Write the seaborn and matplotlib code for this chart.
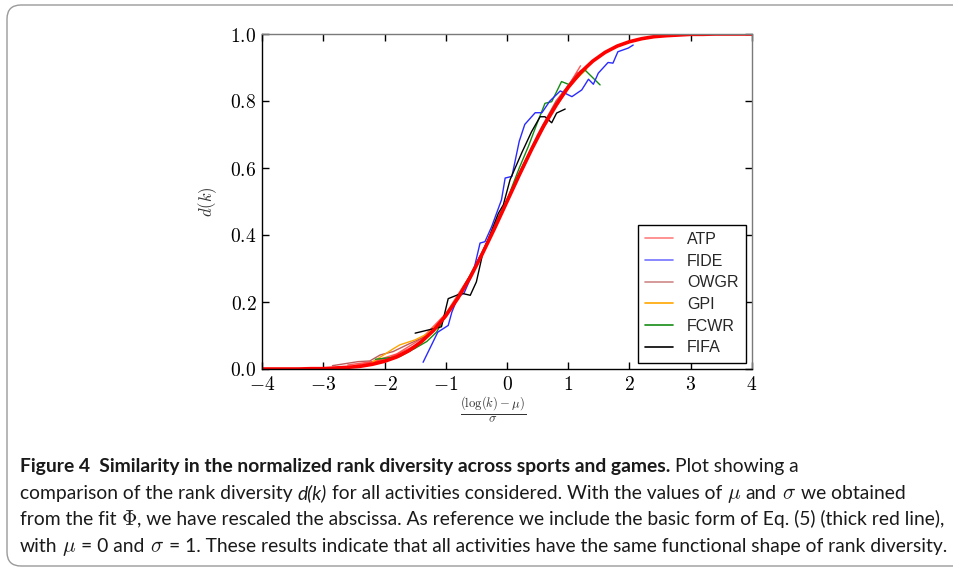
import numpy as np
import pandas as pd
import matplotlib
matplotlib.use("Agg")
import matplotlib.pyplot as plt
import seaborn as sns
from matplotlib.patches import FancyBboxPatch
from matplotlib.lines import Line2D

# ---------------- data ----------------
ref_x = [-4.0, -3.8, -3.6, -3.4, -3.2, -3.0, -2.8, -2.6, -2.4, -2.2, -2.0, -1.8, -1.6,
         -1.4, -1.2, -1.0, -0.8, -0.6, -0.4, -0.2, 0.0, 0.2, 0.4, 0.6, 0.8, 1.0, 1.2,
         1.4, 1.6, 1.8, 2.0, 2.2, 2.4, 2.6, 2.8, 3.0, 3.2, 3.4, 3.6, 3.8, 4.0]
ref_y = [0.000, 0.000, 0.000, 0.000, 0.001, 0.001, 0.003, 0.005, 0.008, 0.014, 0.023,
         0.036, 0.055, 0.081, 0.115, 0.159, 0.212, 0.274, 0.345, 0.421, 0.500, 0.579,
         0.655, 0.726, 0.788, 0.841, 0.885, 0.919, 0.945, 0.964, 0.977, 0.986, 0.992,
         0.995, 0.997, 0.999, 0.999, 1.000, 1.000, 1.000, 1.000]

atp1_x = [-2.6, -2.2, -1.8, -1.4, -1.0, -0.6, -0.2, 0.2, 0.6, 1.0, 1.2]
atp1_y = [0.012, 0.022, 0.045, 0.090, 0.165, 0.280, 0.420, 0.585, 0.730, 0.845, 0.905]
atp2_x = [-2.3, -1.9, -1.5, -1.1, -0.7, -0.3, 0.1, 0.5, 0.9, 1.15]
atp2_y = [0.015, 0.035, 0.070, 0.130, 0.245, 0.385, 0.545, 0.695, 0.820, 0.885]
atp3_x = [-2.5, -2.0, -1.5, -1.0, -0.5, 0.0, 0.5, 1.0, 1.18]
atp3_y = [0.010, 0.028, 0.062, 0.155, 0.310, 0.500, 0.690, 0.840, 0.875]

fide_x = [-1.37, -1.13, -0.96, -0.90, -0.80, -0.70, -0.55, -0.44, -0.36, -0.25, -0.20,
          -0.09, -0.03, 0.08, 0.20, 0.29, 0.46, 0.57, 0.70, 0.87, 1.06, 1.22, 1.33,
          1.41, 1.49, 1.65, 1.73, 1.81, 1.98, 2.06]
fide_y = [0.020, 0.110, 0.130, 0.170, 0.215, 0.227, 0.290, 0.376, 0.380, 0.425, 0.450,
          0.505, 0.570, 0.575, 0.680, 0.730, 0.765, 0.765, 0.800, 0.830, 0.813, 0.833,
          0.865, 0.850, 0.883, 0.915, 0.913, 0.947, 0.958, 0.967]

owgr_x = [-2.85, -2.43, -2.24, -2.07, -1.86, -1.60, -1.30, -1.00, -0.70, -0.40, -0.10,
          0.20, 0.50, 0.80, 1.10, 1.20]
owgr_y = [0.010, 0.022, 0.024, 0.042, 0.052, 0.075, 0.100, 0.160, 0.245, 0.350, 0.465,
          0.585, 0.700, 0.800, 0.870, 0.890]

gpi_x = [-2.20, -1.86, -1.75, -1.50, -1.30, -1.10, -0.90, -0.70, -0.50, -0.30, -0.10,
         0.10, 0.30, 0.50, 0.70, 0.90, 1.10, 1.30]
gpi_y = [0.020, 0.060, 0.072, 0.087, 0.105, 0.140, 0.190, 0.245, 0.310, 0.385, 0.465,
         0.540, 0.620, 0.690, 0.755, 0.815, 0.860, 0.895]

fcwr_x = [-2.15, -1.75, -1.50, -1.31, -1.15, -0.98, -0.80, -0.60, -0.40, -0.20, 0.00,
          0.20, 0.35, 0.48, 0.62, 0.73, 0.89, 1.03, 1.27, 1.52]
fcwr_y = [0.029, 0.037, 0.062, 0.082, 0.110, 0.167, 0.215, 0.280, 0.350, 0.430, 0.505,
          0.600, 0.665, 0.728, 0.793, 0.798, 0.858, 0.848, 0.893, 0.848]

fifa_x = [-1.50, -1.07, -0.96, -0.74, -0.60, -0.50, -0.39, -0.30, -0.14, -0.06, 0.05,
          0.24, 0.40, 0.54, 0.62, 0.73, 0.81, 0.95]
fifa_y = [0.107, 0.126, 0.210, 0.226, 0.220, 0.260, 0.350, 0.390, 0.465, 0.490, 0.565,
          0.645, 0.708, 0.753, 0.753, 0.735, 0.764, 0.776]

legend_labels = ["ATP", "FIDE", "OWGR", "GPI", "FCWR", "FIFA"]
x_ticks = [-4, -3, -2, -1, 0, 1, 2, 3, 4]
y_ticks = [0.0, 0.2, 0.4, 0.6, 0.8, 1.0]

# ---------------- style ----------------
sns.set_style("ticks")
plt.rcParams["mathtext.fontset"] = "cm"
plt.rcParams["font.family"] = ["Lato", "DejaVu Sans"]

colors = {"ATP": "#ff3b3b", "FIDE": "#2a2aff", "OWGR": "#b54a4a",
          "GPI": "#ffa500", "FCWR": "#148c14", "FIFA": "#000000"}

W, H = 954, 570
fig = plt.figure(figsize=(W / 100, H / 100), dpi=100)
ax = fig.add_axes([262 / W, 1 - 369 / H, 490 / W, 335 / H])

kw = dict(ax=ax, sort=False, estimator=None, linewidth=1.0)
for xs, ys in [(atp1_x, atp1_y), (atp2_x, atp2_y), (atp3_x, atp3_y)]:
    sns.lineplot(x=xs, y=ys, color=colors["ATP"], alpha=0.85, **kw)
sns.lineplot(x=ref_x, y=ref_y, color="#ff0000", ax=ax, sort=False, estimator=None,
             linewidth=2.6, zorder=2.5)
sns.lineplot(x=owgr_x, y=owgr_y, color=colors["OWGR"], alpha=0.9, **kw)
sns.lineplot(x=gpi_x, y=gpi_y, color=colors["GPI"], **kw)
sns.lineplot(x=fcwr_x, y=fcwr_y, color=colors["FCWR"], **kw)
sns.lineplot(x=fide_x, y=fide_y, color=colors["FIDE"], **kw)
sns.lineplot(x=fifa_x, y=fifa_y, color=colors["FIFA"], **kw)

ax.set_xlim(-4, 4)
ax.set_ylim(0, 1)
ax.set_xticks(x_ticks)
ax.set_xticklabels([f"${v}$" for v in x_ticks])
ax.set_yticks(y_ticks)
ax.set_yticklabels([f"${v:.1f}$" for v in y_ticks])
ax.tick_params(direction="in", top=True, right=True, length=5, width=1,
               labelsize=14, colors="black")
ax.tick_params(axis="x", pad=4)
ax.tick_params(axis="y", pad=4)
for s in ["left", "bottom"]:
    ax.spines[s].set_color("black")
    ax.spines[s].set_linewidth(1.0)
for s in ["top", "right"]:
    ax.spines[s].set_color("#7a7a7a")
    ax.spines[s].set_linewidth(1.0)

ax.set_ylabel(r"$d(k)$", fontsize=12, color="#333333")
ax.yaxis.set_label_coords(-0.088, 0.5)
ax.set_xlabel(r"$\frac{(\log(k)-\mu)}{\sigma}$", fontsize=13, color="#333333")
ax.xaxis.set_label_coords(0.472, -0.08)

handles = [Line2D([0], [0], color=colors[l], lw=1.2,
                  alpha=0.65 if l in ("ATP", "FIDE", "OWGR") else 1.0)
           for l in legend_labels]
leg = ax.legend(handles, legend_labels, loc="lower right",
                prop={"family": ["Liberation Sans", "DejaVu Sans"], "size": 11.5},
                frameon=True, fancybox=False, edgecolor="black", framealpha=1,
                handlelength=1.7, handletextpad=0.9, labelspacing=0.42,
                borderpad=0.45, borderaxespad=0.4)
leg.get_frame().set_linewidth(1.0)

# ---------------- figure border ----------------
border = FancyBboxPatch((7, 4), 1100, 561, boxstyle="round,pad=0,rounding_size=14",
                        transform=None, fill=False, edgecolor="#9a9a9a", lw=1.0)
fig.patches.append(border)

# ---------------- caption ----------------
caption_lines = [
    [("Figure 4  Similarity in the normalized rank diversity across sports and games.", "b"),
     (" Plot showing a", "r")],
    [("comparison of the rank diversity ", "r"), ("d(k)", "i"),
     (" for all activities considered. With the values of ", "r"), (r"$\mu$", "m"),
     (" and ", "r"), (r"$\sigma$", "m"), (" we obtained", "r")],
    [("from the fit ", "r"), (r"$\Phi$", "m"),
     (", we have rescaled the abscissa. As reference we include the basic form of Eq. (5) (thick red line),", "r")],
    [("with ", "r"), (r"$\mu$", "m"), (" = 0 and ", "r"), (r"$\sigma$", "m"),
     (" = 1. These results indicate that all activities have the same functional shape of rank diversity.", "r")],
]
baselines = [472, 499, 525, 552]
renderer = fig.canvas.get_renderer()


def style_kw(st, size):
    d = dict(fontsize=size, color="#1a1a1a")
    if st == "b":
        d["fontweight"] = "bold"
    elif st == "i":
        d["fontstyle"] = "italic"
    elif st == "m":
        d["fontsize"] = size * 1.1
    return d


def text_w(s, size, st="r"):
    t = fig.text(0, 0, s, **style_kw(st, size))
    w = t.get_window_extent(renderer=renderer).width
    t.remove()
    return w


def draw_line(runs, y_px, size, x0=20, draw=True):
    sp = text_w("a a", size) - text_w("aa", size)
    x = x0
    for s, st in runs:
        lead = len(s) - len(s.lstrip(" "))
        trail = len(s) - len(s.rstrip(" "))
        core = s.strip(" ")
        x += lead * sp
        t = fig.text(x / W, 1 - y_px / H, core, va="baseline", ha="left",
                     **style_kw(st, size))
        w = t.get_window_extent(renderer=renderer).width
        if not draw:
            t.remove()
        x += w + trail * sp
    return x


base = 12.0
end4 = draw_line(caption_lines[3], baselines[3], base, draw=False)
cap_size = base * (948 - 20) / (end4 - 20)
for runs, yb in zip(caption_lines, baselines):
    draw_line(runs, yb, cap_size)

fig.savefig("out.png", dpi=100)
